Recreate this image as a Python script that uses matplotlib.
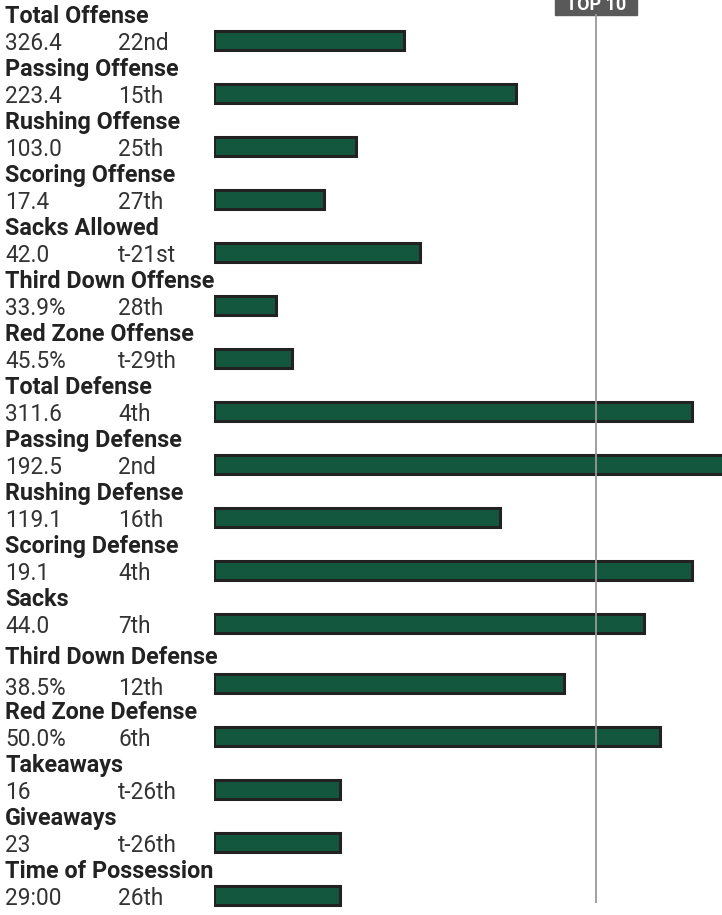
import matplotlib.pyplot as plt
from matplotlib import patheffects as pe

plt.rcParams['font.family'] = ['Roboto', 'DejaVu Sans']

# stat names, values, league ranks
stats = ['Total Offense', 'Passing Offense', 'Rushing Offense', 'Scoring Offense',
         'Sacks Allowed', 'Third Down Offense', 'Red Zone Offense', 'Total Defense',
         'Passing Defense', 'Rushing Defense', 'Scoring Defense', 'Sacks',
         'Third Down Defense', 'Red Zone Defense', 'Takeaways', 'Giveaways',
         'Time of Possession']
values = ['326.4', '223.4', '103.0', '17.4', '42.0', '33.9%', '45.5%', '311.6',
          '192.5', '119.1', '19.1', '44.0', '38.5%', '50.0%', '16', '23', '29:00']
ranks = ['22nd', '15th', '25th', '27th', 't-21st', '28th', 't-29th', '4th',
         '2nd', '16th', '4th', '7th', '12th', '6th', 't-26th', 't-26th', '26th']
# bar length (rank score, larger = better)
bar_score = [11.9, 18.9, 8.9, 6.9, 12.9, 3.9, 4.9, 29.9, 31.9, 17.9, 29.9,
             26.9, 21.9, 27.9, 7.9, 7.9, 7.9]
top10_mark = 23.9

W, H = 722, 915
fig = plt.figure(figsize=(W / 100, H / 100), dpi=100)

# text layer in pixel coords
axt = fig.add_axes([0, 0, 1, 1])
axt.set_xlim(0, W)
axt.set_ylim(H, 0)
axt.axis('off')

bar_left = 214
axb = fig.add_axes([bar_left / W, 0, (W - bar_left) / W, 1])
axb.set_xlim(0, (W - bar_left) / 16)
axb.set_ylim(H, 0)
axb.axis('off')

ys = [40 + 53 * i + (7 if i >= 12 else 0) for i in range(len(stats))]

green = '#14573f'
axb.barh(ys, bar_score, height=19, left=0, color=green, edgecolor='#222222',
         linewidth=2.2, zorder=2,
         path_effects=[pe.SimplePatchShadow(offset=(0, -1.2), shadow_rgbFace='#aaaaaa', alpha=1),
                       pe.Normal()])

axb.plot([top10_mark, top10_mark], [14, 903], color='#999999', lw=1.3, zorder=3,
         solid_capstyle='butt')

# TOP 10 tab
x10 = bar_left + top10_mark * 16
axt.add_patch(plt.Rectangle((x10 - 41, -5), 82, 20, color='#595959', zorder=4))
axt.text(x10, 10, 'TOP 10', color='white', fontsize=13, fontweight='bold',
         ha='center', va='baseline', zorder=5)

for i, y in enumerate(ys):
    ty = y - 17 if i != 12 else y - 19
    axt.text(5, ty, stats[i], fontsize=16.8, fontweight='bold', color='#222222',
             va='baseline', ha='left')
    vy = y + 10 if i != 12 else y + 12
    axt.text(5, vy, values[i], fontsize=16.3, color='#333333', va='baseline', ha='left')
    axt.text(118, vy, ranks[i], fontsize=16.3, color='#333333', va='baseline', ha='left')

fig.savefig('out.png', dpi=100)
